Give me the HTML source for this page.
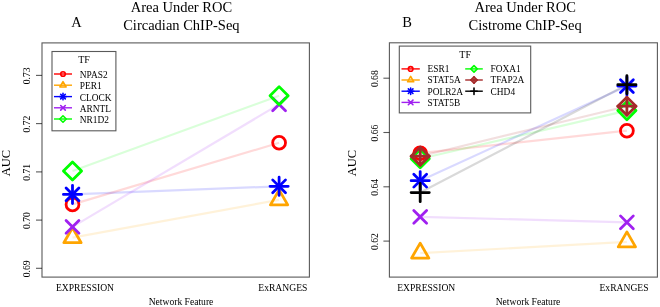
<!DOCTYPE html>
<html><head><meta charset="utf-8"><style>
html,body{margin:0;padding:0;background:#fff;}
svg{display:block;will-change:transform;font-family:"Liberation Serif",serif;}
</style></head><body>
<svg width="660" height="307" viewBox="0 0 660 307">
<rect width="660" height="307" fill="#fff"/>
<rect x="42" y="42.9" width="267.4" height="234.20000000000002" fill="none" stroke="#000" stroke-opacity="0.65" stroke-width="1.1"/>
<line x1="36" y1="268.3" x2="42" y2="268.3" stroke="#000" stroke-opacity="0.65" stroke-width="1.1"/>
<text x="30.50" y="268.80" font-size="9.6" text-anchor="middle" fill="#000" transform="rotate(-90 30.50 268.80)">0.69</text>
<line x1="36" y1="220.1" x2="42" y2="220.1" stroke="#000" stroke-opacity="0.65" stroke-width="1.1"/>
<text x="30.50" y="220.60" font-size="9.6" text-anchor="middle" fill="#000" transform="rotate(-90 30.50 220.60)">0.70</text>
<line x1="36" y1="171.9" x2="42" y2="171.9" stroke="#000" stroke-opacity="0.65" stroke-width="1.1"/>
<text x="30.50" y="172.40" font-size="9.6" text-anchor="middle" fill="#000" transform="rotate(-90 30.50 172.40)">0.71</text>
<line x1="36" y1="123.6" x2="42" y2="123.6" stroke="#000" stroke-opacity="0.65" stroke-width="1.1"/>
<text x="30.50" y="124.10" font-size="9.6" text-anchor="middle" fill="#000" transform="rotate(-90 30.50 124.10)">0.72</text>
<line x1="36" y1="75.4" x2="42" y2="75.4" stroke="#000" stroke-opacity="0.65" stroke-width="1.1"/>
<text x="30.50" y="75.90" font-size="9.6" text-anchor="middle" fill="#000" transform="rotate(-90 30.50 75.90)">0.73</text>
<line x1="72.5" y1="204.4" x2="279.1" y2="142.8" stroke="#ff0000" stroke-opacity="0.15" stroke-width="2.2"/>
<line x1="72.5" y1="237.7" x2="279.1" y2="199.9" stroke="#ffa500" stroke-opacity="0.15" stroke-width="2.2"/>
<line x1="72.5" y1="194.4" x2="279.1" y2="186.3" stroke="#0000ff" stroke-opacity="0.15" stroke-width="2.2"/>
<line x1="72.5" y1="226.9" x2="279.1" y2="104.4" stroke="#a020f0" stroke-opacity="0.15" stroke-width="2.2"/>
<line x1="72.5" y1="171.0" x2="279.1" y2="95.7" stroke="#00ff00" stroke-opacity="0.15" stroke-width="2.2"/>
<circle cx="72.50" cy="204.40" r="6.42" stroke="#ff0000" stroke-width="2.8" fill="none" stroke-linecap="round" stroke-linejoin="round"/>
<circle cx="279.10" cy="142.80" r="6.42" stroke="#ff0000" stroke-width="2.8" fill="none" stroke-linecap="round" stroke-linejoin="round"/>
<polygon points="72.50,227.72 81.15,242.69 63.85,242.69" stroke="#ffa500" stroke-width="2.8" fill="none" stroke-linecap="round" stroke-linejoin="round"/>
<polygon points="279.10,189.92 287.75,204.89 270.45,204.89" stroke="#ffa500" stroke-width="2.8" fill="none" stroke-linecap="round" stroke-linejoin="round"/>
<path d="M66.08 187.98L78.92 200.82M66.08 200.82L78.92 187.98" stroke="#0000ff" stroke-width="2.8" fill="none" stroke-linecap="round" stroke-linejoin="round"/>
<path d="M63.42 194.40H81.58M72.50 185.32V203.48" stroke="#0000ff" stroke-width="2.8" fill="none" stroke-linecap="round" stroke-linejoin="round"/>
<path d="M272.68 179.88L285.52 192.72M272.68 192.72L285.52 179.88" stroke="#0000ff" stroke-width="2.8" fill="none" stroke-linecap="round" stroke-linejoin="round"/>
<path d="M270.02 186.30H288.18M279.10 177.22V195.38" stroke="#0000ff" stroke-width="2.8" fill="none" stroke-linecap="round" stroke-linejoin="round"/>
<path d="M66.08 220.48L78.92 233.32M66.08 233.32L78.92 220.48" stroke="#a020f0" stroke-width="2.8" fill="none" stroke-linecap="round" stroke-linejoin="round"/>
<path d="M272.68 97.98L285.52 110.82M272.68 110.82L285.52 97.98" stroke="#a020f0" stroke-width="2.8" fill="none" stroke-linecap="round" stroke-linejoin="round"/>
<polygon points="63.42,171.00 72.50,161.92 81.58,171.00 72.50,180.08" stroke="#00ff00" stroke-width="2.8" fill="none" stroke-linecap="round" stroke-linejoin="round"/>
<polygon points="270.02,95.70 279.10,86.62 288.18,95.70 279.10,104.78" stroke="#00ff00" stroke-width="2.8" fill="none" stroke-linecap="round" stroke-linejoin="round"/>
<text x="85.00" y="290.70" font-size="9.6" text-anchor="middle" fill="#000">EXPRESSION</text>
<text x="282.85" y="290.70" font-size="9.6" text-anchor="middle" fill="#000">ExRANGES</text>
<text x="181.00" y="304.70" font-size="9.6" text-anchor="middle" fill="#000">Network Feature</text>
<text x="10.30" y="163.00" font-size="12.5" text-anchor="middle" fill="#000" transform="rotate(-90 10.30 163.00)">AUC</text>
<text x="181.40" y="12.40" font-size="14.5" text-anchor="middle" fill="#000">Area Under ROC</text>
<text x="181.40" y="29.50" font-size="14.5" text-anchor="middle" fill="#000">Circadian ChIP-Seq</text>
<text x="76.40" y="26.90" font-size="14.5" text-anchor="middle" fill="#000">A</text>
<rect x="389.4" y="42.8" width="268.0" height="234.3" fill="none" stroke="#000" stroke-opacity="0.65" stroke-width="1.1"/>
<line x1="383.4" y1="241.1" x2="389.4" y2="241.1" stroke="#000" stroke-opacity="0.65" stroke-width="1.1"/>
<text x="377.90" y="241.60" font-size="9.6" text-anchor="middle" fill="#000" transform="rotate(-90 377.90 241.60)">0.62</text>
<line x1="383.4" y1="186.8" x2="389.4" y2="186.8" stroke="#000" stroke-opacity="0.65" stroke-width="1.1"/>
<text x="377.90" y="187.30" font-size="9.6" text-anchor="middle" fill="#000" transform="rotate(-90 377.90 187.30)">0.64</text>
<line x1="383.4" y1="132.5" x2="389.4" y2="132.5" stroke="#000" stroke-opacity="0.65" stroke-width="1.1"/>
<text x="377.90" y="133.00" font-size="9.6" text-anchor="middle" fill="#000" transform="rotate(-90 377.90 133.00)">0.66</text>
<line x1="383.4" y1="78.2" x2="389.4" y2="78.2" stroke="#000" stroke-opacity="0.65" stroke-width="1.1"/>
<text x="377.90" y="78.70" font-size="9.6" text-anchor="middle" fill="#000" transform="rotate(-90 377.90 78.70)">0.68</text>
<line x1="420.2" y1="153.2" x2="626.9" y2="130.7" stroke="#ff0000" stroke-opacity="0.15" stroke-width="2.2"/>
<line x1="420.2" y1="253.1" x2="626.9" y2="241.9" stroke="#ffa500" stroke-opacity="0.15" stroke-width="2.2"/>
<line x1="420.2" y1="180.7" x2="626.9" y2="86.1" stroke="#0000ff" stroke-opacity="0.15" stroke-width="2.2"/>
<line x1="420.2" y1="216.9" x2="626.9" y2="222.3" stroke="#a020f0" stroke-opacity="0.15" stroke-width="2.2"/>
<line x1="420.2" y1="158.7" x2="626.9" y2="110.6" stroke="#00ff00" stroke-opacity="0.15" stroke-width="2.2"/>
<line x1="420.2" y1="156.2" x2="626.9" y2="106.2" stroke="#a52a2a" stroke-opacity="0.15" stroke-width="2.2"/>
<line x1="420.2" y1="192.6" x2="626.9" y2="84.65" stroke="#000000" stroke-opacity="0.15" stroke-width="2.2"/>
<circle cx="420.20" cy="153.20" r="6.42" stroke="#ff0000" stroke-width="2.8" fill="none" stroke-linecap="round" stroke-linejoin="round"/>
<circle cx="626.90" cy="130.70" r="6.42" stroke="#ff0000" stroke-width="2.8" fill="none" stroke-linecap="round" stroke-linejoin="round"/>
<polygon points="420.20,243.12 428.85,258.09 411.55,258.09" stroke="#ffa500" stroke-width="2.8" fill="none" stroke-linecap="round" stroke-linejoin="round"/>
<polygon points="626.90,231.92 635.55,246.89 618.25,246.89" stroke="#ffa500" stroke-width="2.8" fill="none" stroke-linecap="round" stroke-linejoin="round"/>
<path d="M413.78 174.28L426.62 187.12M413.78 187.12L426.62 174.28" stroke="#0000ff" stroke-width="2.8" fill="none" stroke-linecap="round" stroke-linejoin="round"/>
<path d="M411.12 180.70H429.28M420.20 171.62V189.78" stroke="#0000ff" stroke-width="2.8" fill="none" stroke-linecap="round" stroke-linejoin="round"/>
<path d="M620.48 79.68L633.32 92.52M620.48 92.52L633.32 79.68" stroke="#0000ff" stroke-width="2.8" fill="none" stroke-linecap="round" stroke-linejoin="round"/>
<path d="M617.82 86.10H635.98M626.90 77.02V95.18" stroke="#0000ff" stroke-width="2.8" fill="none" stroke-linecap="round" stroke-linejoin="round"/>
<path d="M413.78 210.48L426.62 223.32M413.78 223.32L426.62 210.48" stroke="#a020f0" stroke-width="2.8" fill="none" stroke-linecap="round" stroke-linejoin="round"/>
<path d="M620.48 215.88L633.32 228.72M620.48 228.72L633.32 215.88" stroke="#a020f0" stroke-width="2.8" fill="none" stroke-linecap="round" stroke-linejoin="round"/>
<polygon points="411.12,158.70 420.20,149.62 429.28,158.70 420.20,167.78" stroke="#00ff00" stroke-width="2.8" fill="none" stroke-linecap="round" stroke-linejoin="round"/>
<polygon points="617.82,110.60 626.90,101.52 635.98,110.60 626.90,119.68" stroke="#00ff00" stroke-width="2.8" fill="none" stroke-linecap="round" stroke-linejoin="round"/>
<path d="M411.12 156.20H429.28M420.20 147.12V165.28" stroke="#a52a2a" stroke-width="2.8" fill="none" stroke-linecap="round" stroke-linejoin="round"/>
<polygon points="411.12,156.20 420.20,147.12 429.28,156.20 420.20,165.28" stroke="#a52a2a" stroke-width="2.8" fill="none" stroke-linecap="round" stroke-linejoin="round"/>
<path d="M617.82 106.20H635.98M626.90 97.12V115.28" stroke="#a52a2a" stroke-width="2.8" fill="none" stroke-linecap="round" stroke-linejoin="round"/>
<polygon points="617.82,106.20 626.90,97.12 635.98,106.20 626.90,115.28" stroke="#a52a2a" stroke-width="2.8" fill="none" stroke-linecap="round" stroke-linejoin="round"/>
<path d="M411.12 192.60H429.28M420.20 183.52V201.68" stroke="#000000" stroke-width="2.8" fill="none" stroke-linecap="round" stroke-linejoin="round"/>
<path d="M617.82 84.65H635.98M626.90 75.57V93.73" stroke="#000000" stroke-width="2.8" fill="none" stroke-linecap="round" stroke-linejoin="round"/>
<text x="426.20" y="290.70" font-size="9.6" text-anchor="middle" fill="#000">EXPRESSION</text>
<text x="624.00" y="290.70" font-size="9.6" text-anchor="middle" fill="#000">ExRANGES</text>
<text x="528.00" y="304.70" font-size="9.6" text-anchor="middle" fill="#000">Network Feature</text>
<text x="356.40" y="163.00" font-size="12.5" text-anchor="middle" fill="#000" transform="rotate(-90 356.40 163.00)">AUC</text>
<text x="525.20" y="12.40" font-size="14.5" text-anchor="middle" fill="#000">Area Under ROC</text>
<text x="525.20" y="29.50" font-size="14.5" text-anchor="middle" fill="#000">Cistrome ChIP-Seq</text>
<text x="407.20" y="26.90" font-size="14.5" text-anchor="middle" fill="#000">B</text>
<rect x="52" y="51.5" width="63.900000000000006" height="79.30000000000001" fill="none" stroke="#000" stroke-opacity="0.65" stroke-width="1.1"/>
<text x="84.00" y="62.70" font-size="10" text-anchor="middle" fill="#000">TF</text>
<line x1="54" y1="74.0" x2="72" y2="74.0" stroke="#ff0000" stroke-width="1.4"/>
<circle cx="63.00" cy="74.00" r="2.30" stroke="#ff0000" stroke-width="1.6" fill="none" stroke-linecap="round" stroke-linejoin="round"/>
<text x="79.80" y="77.90" font-size="9.4" text-anchor="start" fill="#000">NPAS2</text>
<line x1="54" y1="85.2" x2="72" y2="85.2" stroke="#ffa500" stroke-width="1.4"/>
<polygon points="63.00,81.62 66.10,86.99 59.90,86.99" stroke="#ffa500" stroke-width="1.6" fill="none" stroke-linecap="round" stroke-linejoin="round"/>
<text x="79.80" y="89.10" font-size="9.4" text-anchor="start" fill="#000">PER1</text>
<line x1="54" y1="96.6" x2="72" y2="96.6" stroke="#0000ff" stroke-width="1.4"/>
<path d="M60.70 94.30L65.30 98.90M60.70 98.90L65.30 94.30" stroke="#0000ff" stroke-width="1.6" fill="none" stroke-linecap="round" stroke-linejoin="round"/>
<path d="M59.75 96.60H66.25M63.00 93.35V99.85" stroke="#0000ff" stroke-width="1.6" fill="none" stroke-linecap="round" stroke-linejoin="round"/>
<text x="79.80" y="100.50" font-size="9.4" text-anchor="start" fill="#000">CLOCK</text>
<line x1="54" y1="107.8" x2="72" y2="107.8" stroke="#a020f0" stroke-width="1.4"/>
<path d="M60.70 105.50L65.30 110.10M60.70 110.10L65.30 105.50" stroke="#a020f0" stroke-width="1.6" fill="none" stroke-linecap="round" stroke-linejoin="round"/>
<text x="79.80" y="111.70" font-size="9.4" text-anchor="start" fill="#000">ARNTL</text>
<line x1="54" y1="119.0" x2="72" y2="119.0" stroke="#00ff00" stroke-width="1.4"/>
<polygon points="59.75,119.00 63.00,115.75 66.25,119.00 63.00,122.25" stroke="#00ff00" stroke-width="1.6" fill="none" stroke-linecap="round" stroke-linejoin="round"/>
<text x="79.80" y="122.90" font-size="9.4" text-anchor="start" fill="#000">NR1D2</text>
<rect x="399.3" y="46.1" width="131.40000000000003" height="66.80000000000001" fill="none" stroke="#000" stroke-opacity="0.65" stroke-width="1.1"/>
<text x="465.20" y="57.50" font-size="10" text-anchor="middle" fill="#000">TF</text>
<line x1="401.5" y1="68.9" x2="419.8" y2="68.9" stroke="#ff0000" stroke-width="1.4"/>
<circle cx="410.65" cy="68.90" r="2.30" stroke="#ff0000" stroke-width="1.6" fill="none" stroke-linecap="round" stroke-linejoin="round"/>
<text x="427.60" y="72.30" font-size="9.4" text-anchor="start" fill="#000">ESR1</text>
<line x1="401.5" y1="80.0" x2="419.8" y2="80.0" stroke="#ffa500" stroke-width="1.4"/>
<polygon points="410.65,76.42 413.75,81.79 407.55,81.79" stroke="#ffa500" stroke-width="1.6" fill="none" stroke-linecap="round" stroke-linejoin="round"/>
<text x="427.60" y="83.40" font-size="9.4" text-anchor="start" fill="#000">STAT5A</text>
<line x1="401.5" y1="91.2" x2="419.8" y2="91.2" stroke="#0000ff" stroke-width="1.4"/>
<path d="M408.35 88.90L412.95 93.50M408.35 93.50L412.95 88.90" stroke="#0000ff" stroke-width="1.6" fill="none" stroke-linecap="round" stroke-linejoin="round"/>
<path d="M407.40 91.20H413.90M410.65 87.95V94.45" stroke="#0000ff" stroke-width="1.6" fill="none" stroke-linecap="round" stroke-linejoin="round"/>
<text x="427.60" y="94.60" font-size="9.4" text-anchor="start" fill="#000">POLR2A</text>
<line x1="401.5" y1="102.4" x2="419.8" y2="102.4" stroke="#a020f0" stroke-width="1.4"/>
<path d="M408.35 100.10L412.95 104.70M408.35 104.70L412.95 100.10" stroke="#a020f0" stroke-width="1.6" fill="none" stroke-linecap="round" stroke-linejoin="round"/>
<text x="427.60" y="105.80" font-size="9.4" text-anchor="start" fill="#000">STAT5B</text>
<line x1="465.2" y1="68.9" x2="482.8" y2="68.9" stroke="#00ff00" stroke-width="1.4"/>
<polygon points="470.75,68.90 474.00,65.65 477.25,68.90 474.00,72.15" stroke="#00ff00" stroke-width="1.6" fill="none" stroke-linecap="round" stroke-linejoin="round"/>
<text x="490.60" y="72.30" font-size="9.4" text-anchor="start" fill="#000">FOXA1</text>
<line x1="465.2" y1="80.0" x2="482.8" y2="80.0" stroke="#a52a2a" stroke-width="1.4"/>
<path d="M470.75 80.00H477.25M474.00 76.75V83.25" stroke="#a52a2a" stroke-width="1.6" fill="none" stroke-linecap="round" stroke-linejoin="round"/>
<polygon points="470.75,80.00 474.00,76.75 477.25,80.00 474.00,83.25" stroke="#a52a2a" stroke-width="1.6" fill="none" stroke-linecap="round" stroke-linejoin="round"/>
<text x="490.60" y="83.40" font-size="9.4" text-anchor="start" fill="#000">TFAP2A</text>
<line x1="465.2" y1="91.2" x2="482.8" y2="91.2" stroke="#000000" stroke-width="1.4"/>
<path d="M470.75 91.20H477.25M474.00 87.95V94.45" stroke="#000000" stroke-width="1.6" fill="none" stroke-linecap="round" stroke-linejoin="round"/>
<text x="490.60" y="94.60" font-size="9.4" text-anchor="start" fill="#000">CHD4</text>
</svg>
</body></html>
